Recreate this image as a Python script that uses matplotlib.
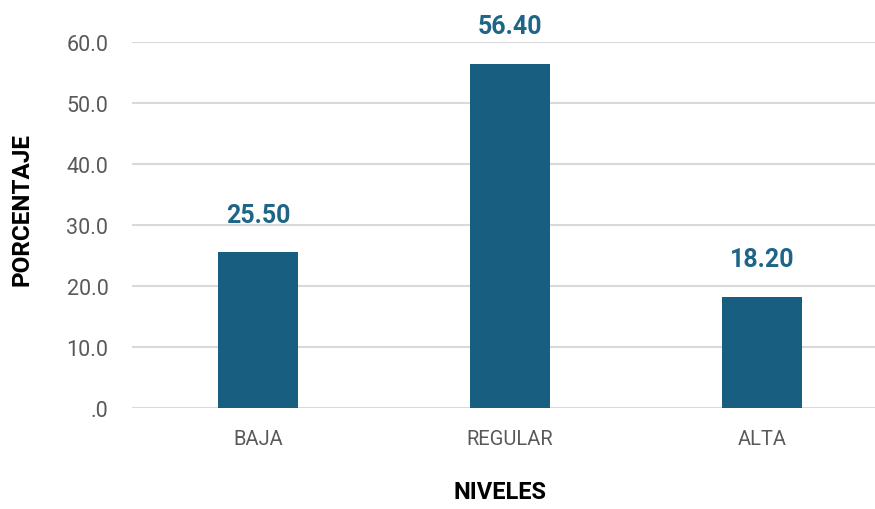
import matplotlib
matplotlib.use('Agg')
import matplotlib.pyplot as plt

niveles = ['BAJA', 'REGULAR', 'ALTA']
porcentaje = [25.50, 56.40, 18.20]
yticks = [0, 10, 20, 30, 40, 50, 60]
ytick_labels = ['.0', '10.0', '20.0', '30.0', '40.0', '50.0', '60.0']

plt.rcParams['font.family'] = ['Roboto', 'DejaVu Sans']

bar_color = '#175e80'
grid_color = '#d9d9d9'
tick_color = '#595959'

fig = plt.figure(figsize=(8.75, 5.1), dpi=100)
# axes runs a little past the right edge so the gridlines reach the border
ax = fig.add_axes([132 / 875, 101 / 510, 756 / 875, 366 / 510])

x = range(len(niveles))
bars = ax.bar(x, porcentaje, width=0.315, color=bar_color, zorder=3)

ax.set_xlim(-0.5, 2.5)
ax.set_ylim(0, 60)
ax.set_yticks(yticks)
ax.set_yticklabels(ytick_labels)
ax.set_xticks(list(x))
ax.set_xticklabels(niveles)

ax.tick_params(axis='y', length=0, pad=17, labelsize=15.5, labelcolor=tick_color)
ax.tick_params(axis='x', length=0, pad=15, labelsize=14.5, labelcolor=tick_color)

ax.grid(axis='y', color=grid_color, linewidth=1.5, zorder=0)
for s in ax.spines.values():
    s.set_visible(False)

for b, v in zip(bars, porcentaje):
    ax.annotate(f'{v:.2f}', (b.get_x() + b.get_width() / 2, v),
                xytext=(0, 22), textcoords='offset points',
                ha='center', va='baseline', fontsize=18, fontweight='bold',
                color='#1f6587')

fig.text(500 / 875, 1 - 493 / 510, 'NIVELES', ha='center', va='center',
         fontsize=17, fontweight='bold', color='black')
fig.text(22 / 875, 1 - 210 / 510, 'PORCENTAJE', ha='center', va='center',
         rotation=90, fontsize=17.5, fontweight='bold', color='black')

fig.savefig('out.png', dpi=100)
